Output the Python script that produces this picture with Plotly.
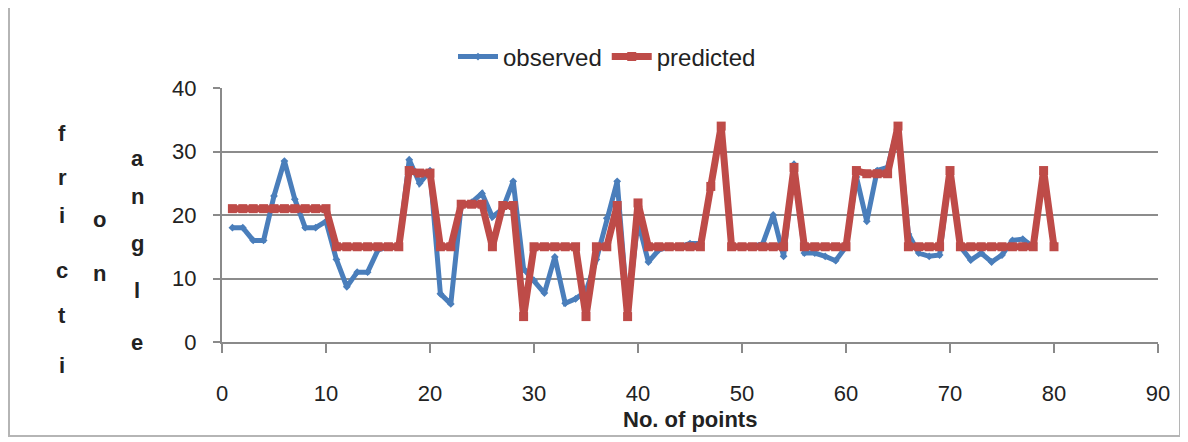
import plotly.graph_objects as go

points = list(range(1, 81))

observed = [18, 18, 16, 16, 23, 28.5, 22.5, 18, 18, 19,
            13, 8.7, 11, 11, 14.5, 15, 15, 28.7, 25, 27,
            7.6, 6, 21.5, 22, 23.4, 19.7, 21, 25.3, 11.5, 9.7,
            7.7, 13.4, 6.1, 6.8, 8, 13, 19.5, 25.3, 5, 19,
            12.6, 14.5, 15, 15, 15.5, 15.5, 24.5, 34, 15, 15,
            15, 15.5, 20, 13.5, 28, 14, 14, 13.5, 12.8, 15,
            26, 19, 27, 27.5, 34, 17, 14, 13.5, 13.7, 27,
            15, 12.9, 14, 12.6, 13.7, 16, 16.2, 15, 27, 15]

predicted = [21, 21, 21, 21, 21, 21, 21, 21, 21, 21,
             15, 15, 15, 15, 15, 15, 15, 27, 26.6, 26.6,
             15, 15, 21.7, 21.7, 21.7, 15, 21.5, 21.5, 4, 15,
             15, 15, 15, 15, 4, 15, 15, 21.5, 4, 21.9,
             15, 15, 15, 15, 15, 15, 24.5, 34, 15, 15,
             15, 15, 15, 15, 27.5, 15, 15, 15, 15, 15,
             27, 26.5, 26.5, 26.5, 34, 15, 15, 15, 15, 27,
             15, 15, 15, 15, 15, 15, 15, 15, 27, 15]

x_ticks = [0, 10, 20, 30, 40, 50, 60, 70, 80, 90]
y_ticks = [0, 10, 20, 30, 40]

FONT = "Liberation Sans Narrow, Liberation Sans, Arial, sans-serif"

fig = go.Figure()
fig.add_trace(go.Scatter(
    x=points, y=observed, name="observed", mode="lines+markers",
    line=dict(color="#4A7EBB", width=5),
    marker=dict(symbol="diamond", size=6, color="#4A7EBB"),
))
fig.add_trace(go.Scatter(
    x=points, y=predicted, name="predicted", mode="lines+markers",
    line=dict(color="#BE4B48", width=7),
    marker=dict(symbol="square", size=9, color="#BE4B48"),
))

# page body adds an 8px offset, so the figure is laid out in page coords minus 8
OFF = 8
W, H = 1188 - OFF, 442 - OFF
L, R, T, B = 222 - OFF, 30, 88 - OFF, 100
pw, ph = W - L - R, H - T - B


def px(xp):
    return (xp - OFF - L) / pw


def py(yp):
    return (H - B - (yp - OFF)) / ph


fig.update_layout(
    width=W, height=H,
    margin=dict(l=L, r=R, t=T, b=B),
    paper_bgcolor="white", plot_bgcolor="white",
    font=dict(family=FONT, size=20, color="#222"),
    showlegend=True,
    legend=dict(orientation="h", x=px(607), y=py(57), xanchor="center", yanchor="middle",
                font=dict(size=24, color="#222"), bgcolor="rgba(0,0,0,0)",
                itemwidth=40, tracegroupgap=0),
    xaxis=dict(range=[0, 90], tickvals=x_ticks, showgrid=False, zeroline=False,
               showline=True, linecolor="#8a8a8a", linewidth=2,
               ticks="outside", ticklen=9, tickcolor="#8a8a8a", tickwidth=1.5,
               tickfont=dict(size=22, color="#222"), ticklabelstandoff=22),
    yaxis=dict(range=[0, 40], tickvals=y_ticks, showgrid=True, gridcolor="#8c8c8c",
               gridwidth=2, zeroline=False, showline=True, linecolor="#8a8a8a", linewidth=2,
               ticks="outside", ticklen=7, tickcolor="#8a8a8a", tickwidth=1.5,
               tickfont=dict(size=22, color="#222"), ticklabelstandoff=12),
)

# outer chart border
fig.add_shape(type="rect", xref="paper", yref="paper",
              x0=px(9), x1=px(1180), y0=py(436), y1=py(6),
              line=dict(color="#b5b5b5", width=2), fillcolor="rgba(0,0,0,0)", layer="below")

# x axis title
fig.add_annotation(text="<b>No. of points</b>", xref="paper", yref="paper",
                   x=0.5, y=py(419), showarrow=False, font=dict(size=22, color="#222"),
                   xanchor="center", yanchor="middle")

# stacked y-axis title letters
col1 = [("f", 133), ("r", 177), ("i", 215), ("c", 270), ("t", 315), ("i", 365)]
col2 = [("o", 219), ("n", 273)]
col3 = [("a", 158), ("n", 196), ("g", 243), ("l", 290), ("e", 342)]
for letters, xc in ((col1, 62), (col2, 100), (col3, 137)):
    for ch, yc in letters:
        fig.add_annotation(text="<b>" + ch + "</b>", xref="paper", yref="paper",
                           x=px(xc), y=py(yc), showarrow=False,
                           font=dict(size=22, color="#222"),
                           xanchor="center", yanchor="middle")

fig.write_html("out.html")
